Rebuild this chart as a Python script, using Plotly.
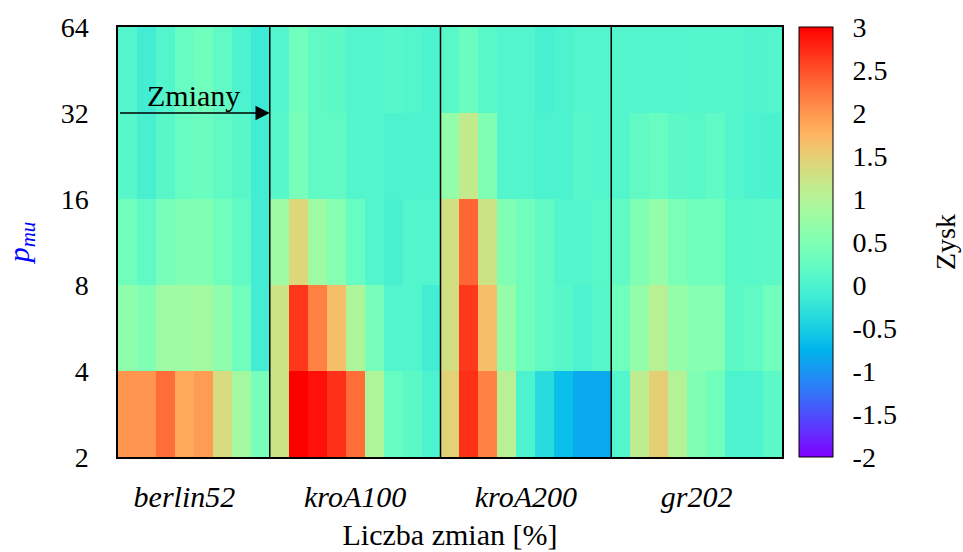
import numpy as np
import plotly.graph_objects as go

# ---------------- data ----------------
groups = ["berlin52", "kroA100", "kroA200", "gr202"]
row_edges = [2, 4, 8, 16, 32, 64]
y_ticks = [2, 4, 8, 16, 32, 64]
cbar_ticks = [-2, -1.5, -1, -0.5, 0, 0.5, 1, 1.5, 2, 2.5, 3]

# rows listed bottom (p=2..4) to top (p=32..64)
berlin52 = [
    [2.0, 2.0, 2.3, 1.85, 1.95, 1.35, 0.85, 0.4],
    [0.65, 0.5, 0.8, 0.8, 0.85, 0.65, 0.35, -0.1],
    [0.35, 0.2, 0.4, 0.5, 0.5, 0.35, 0.2, -0.1],
    [0.1, -0.05, 0.1, 0.25, 0.3, 0.2, 0.1, -0.1],
    [0.05, -0.1, 0.05, 0.25, 0.35, 0.2, 0.0, -0.15],
]
kroA100 = [
    [1.25, 3.0, 2.9, 2.7, 2.3, 0.95, 0.25, 0.15, 0.0],
    [1.25, 2.65, 2.15, 1.65, 0.95, 0.4, 0.05, 0.05, -0.1],
    [0.8, 1.4, 0.8, 0.55, 0.25, 0.05, -0.05, 0.05, 0.05],
    [0.1, 0.4, 0.2, 0.2, 0.05, 0.05, 0.0, 0.0, 0.0],
    [0.05, 0.35, 0.2, 0.15, 0.05, 0.05, 0.1, 0.05, 0.0],
]
kroA200 = [
    [1.45, 2.7, 2.15, 1.05, 0.0, -0.35, -0.65, -0.85, -0.85],
    [1.3, 2.65, 1.65, 0.7, 0.35, 0.2, 0.1, 0.0, 0.1],
    [1.3, 2.35, 1.25, 0.5, 0.35, 0.2, 0.05, 0.05, 0.12],
    [0.7, 1.15, 0.5, 0.05, 0.05, 0.0, 0.0, 0.1, 0.05],
    [0.12, 0.3, 0.12, 0.05, 0.05, -0.05, 0.0, 0.05, 0.05],
]
gr202 = [
    [0.05, 1.1, 1.5, 1.0, 0.5, 0.35, 0.0, 0.0, 0.15],
    [0.35, 0.7, 1.05, 0.7, 0.55, 0.55, 0.15, 0.2, 0.35],
    [0.2, 0.5, 0.7, 0.45, 0.35, 0.35, 0.12, 0.12, 0.15],
    [0.05, 0.2, 0.25, 0.15, 0.12, 0.18, 0.05, 0.0, -0.02],
    [0.05, 0.05, 0.05, 0.05, 0.07, 0.07, 0.07, 0.03, 0.05],
]
group_data = [berlin52, kroA100, kroA200, gr202]

# ---------------- build ----------------
z = [sum((g[r] for g in group_data), []) for r in range(5)]
ncols = len(z[0])
x_edges = list(np.arange(ncols + 1) - 0.5)

bounds = []
acc = 0
for g in group_data[:-1]:
    acc += len(g[0])
    bounds.append(acc - 0.5)
centres = [3, 12, 21, 30]


def rainbow(t):
    r = min(1.0, abs(2 * t - 0.5))
    g = np.sin(np.pi * t)
    b = np.cos(np.pi * t / 2)
    return f"rgb({int(round(r*255))},{int(round(g*255))},{int(round(b*255))})"


cscale = [[t, rainbow(t)] for t in np.linspace(0, 1, 41)]

FONT = "Liberation Serif"
FS = 28      # numbers
FT = 30      # words

fig = go.Figure()
fig.add_trace(go.Heatmap(
    z=z, x=x_edges, y=row_edges,
    colorscale=cscale, zmin=-2, zmax=3,
    colorbar=dict(
        thickness=34, len=1, lenmode="fraction", y=0.5, yanchor="middle",
        x=1 + 17 / 664, xanchor="left", xpad=0, ypad=0,
        outlinewidth=1, outlinecolor="black",
        tickvals=cbar_ticks, ticktext=[f"{v:g}" for v in cbar_ticks],
        ticks="outside", ticklen=14, tickcolor="rgba(0,0,0,0)",
        tickfont=dict(family=FONT, size=FS, color="black"),
    ),
    hoverinfo="skip",
))

for b in bounds:
    fig.add_shape(type="line", x0=b, x1=b, y0=0, y1=1, xref="x", yref="paper",
                  line=dict(color="black", width=1.5))

# colorbar title
fig.add_annotation(x=1 + 163 / 664, y=0.5, xref="paper", yref="paper",
                   text="Zysk", textangle=-90, showarrow=False,
                   xanchor="center", yanchor="middle",
                   font=dict(family=FONT, size=FS, color="black"))

# arrow "Zmiany"
fig.add_annotation(x=bounds[0], y=np.log10(32), ax=-0.5, ay=np.log10(32),
                   xref="x", yref="y", axref="x", ayref="y",
                   text=" ", showarrow=True, arrowhead=2, arrowsize=2.2,
                   arrowwidth=1.3, arrowcolor="black", standoff=0,
                   font=dict(size=2))
fig.add_annotation(x=3.5, y=np.log10(32), xref="x", yref="y", text="Zmiany",
                   showarrow=False, yanchor="bottom", yshift=-1,
                   font=dict(family=FONT, size=FT, color="black"))

fig.update_xaxes(
    range=[-0.5, ncols - 0.5], tickvals=centres,
    ticktext=[f"<i>{g}</i>" for g in groups],
    ticks="", showline=True, mirror=True, linecolor="black", linewidth=1.5,
    tickfont=dict(family=FONT, size=FT, color="black"), ticklabelstandoff=12,
    title=dict(text="Liczba zmian [%]", font=dict(family=FONT, size=FT, color="black"),
               standoff=12),
    showgrid=False, zeroline=False, automargin=False,
)
fig.update_yaxes(
    type="log", range=[np.log10(2), np.log10(64)], tickvals=y_ticks,
    ticktext=[str(v) for v in y_ticks],
    ticks="", showline=True, mirror=True, linecolor="black", linewidth=1.5,
    tickfont=dict(family=FONT, size=FS, color="black"), ticklabelstandoff=22,
    title=dict(text="<i>p</i><sub><i>mu</i></sub>",
               font=dict(family=FONT, size=FT, color="blue"), standoff=22),
    showgrid=False, zeroline=False, automargin=False,
)

fig.update_layout(
    width=963, height=552,
    margin=dict(l=118, r=181, t=27, b=95, autoexpand=False),
    paper_bgcolor="white", plot_bgcolor="white",
    font=dict(family=FONT),
)

fig.write_html("out.html")
